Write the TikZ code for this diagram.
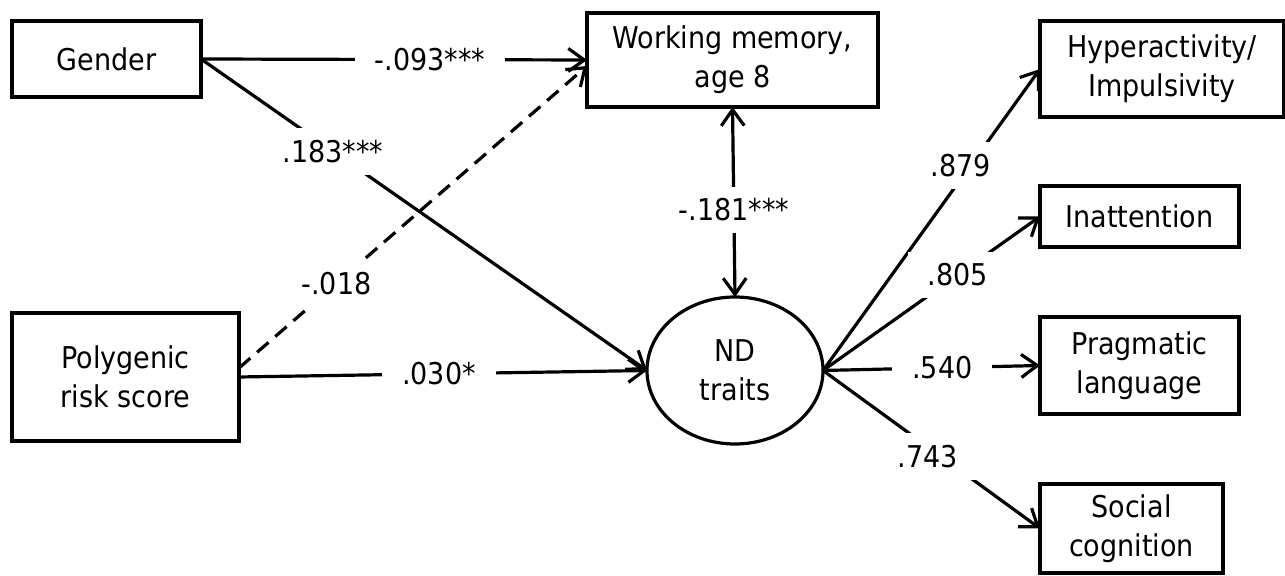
\documentclass[tikz,border=0pt]{standalone}
\usepackage{fontspec}
\setmainfont{DejaVu Sans Condensed}
\usetikzlibrary{arrows.meta,shapes.geometric}

\tikzset{
  box/.style={draw, line width=1.6pt, align=center, inner sep=0pt, outer sep=0pt,
              font=\fontsize{15}{19.5}\selectfont},
  latent/.style={draw, ellipse, line width=1.6pt, align=center, inner sep=0pt, outer sep=0pt,
              minimum width=88pt, minimum height=73.5pt, font=\fontsize{15}{19.5}\selectfont},
  tip/.tip={Straight Barb[length=8pt,width=11.5pt]},
  conn/.style={line width=1.6pt, -tip},
  dconn/.style={conn, dash pattern=on 7.5pt off 4.5pt},
  lbl/.style={fill=white, inner xsep=10pt, inner ysep=6pt, font=\fontsize{15}{19.5}\selectfont}
}

\begin{document}
\begin{tikzpicture}[x=0.5pt, y=-0.5pt]
  \useasboundingbox (0,0) rectangle (1285,576);

  % predictors
  \node[box, minimum width=94.5pt, minimum height=38pt] (G) at (106.5,59) {Gender};
  \node[box, minimum width=113.5pt, minimum height=64pt] (P) at (125.5,377) {Polygenic\\risk score};

  % mediator and latent factor
  \node[box, minimum width=145.5pt, minimum height=47pt] (WM) at (732.5,60) {Working memory,\\age 8};
  \node[latent] (ND) at (735,370.5) {ND\\traits};

  % indicators
  \node[box, minimum width=122pt, minimum height=48pt] (H) at (1162,69) {Hyperactivity/\\Impulsivity};
  \node[box, minimum width=99.5pt, minimum height=30.5pt] (I) at (1139.5,216.5) {Inattention};
  \node[box, minimum width=99.5pt, minimum height=48.5pt] (PL) at (1139.5,365.5) {Pragmatic\\language};
  \node[box, minimum width=91.5pt, minimum height=44.5pt] (SC) at (1131.5,528.5) {Social\\cognition};

  % structural paths
  \draw[conn] (G.east) -- node[lbl, pos=0.593] {-.093***} (WM.west);
  \draw[conn] (G.east) -- node[lbl, pos=0.296] {.183***} (ND.west);
  \draw[dconn] ([yshift=4.5pt]P.east) -- node[lbl, pos=0.28] {-.018} ([yshift=-3pt]WM.west);
  \draw[conn] (P.east) -- node[lbl, pos=0.49] {.030*} (ND.west);
  \draw[conn, tip-tip] (ND.north) -- node[lbl, pos=0.458] {-.181***} (WM.south);

  % measurement paths
  \draw[conn] (ND.east) -- node[lbl, pos=0.68, xshift=-5pt] {.879} (H.west);
  \draw[conn] (ND.east) -- node[lbl, pos=0.62] {.805} (I.west);
  \draw[conn] (ND.east) -- node[lbl, pos=0.55] {.540} (PL.west);
  \draw[conn] (ND.east) -- node[lbl, pos=0.5, xshift=-1.75pt, yshift=-3.5pt] {.743} (SC.west);
\end{tikzpicture}
\end{document}
